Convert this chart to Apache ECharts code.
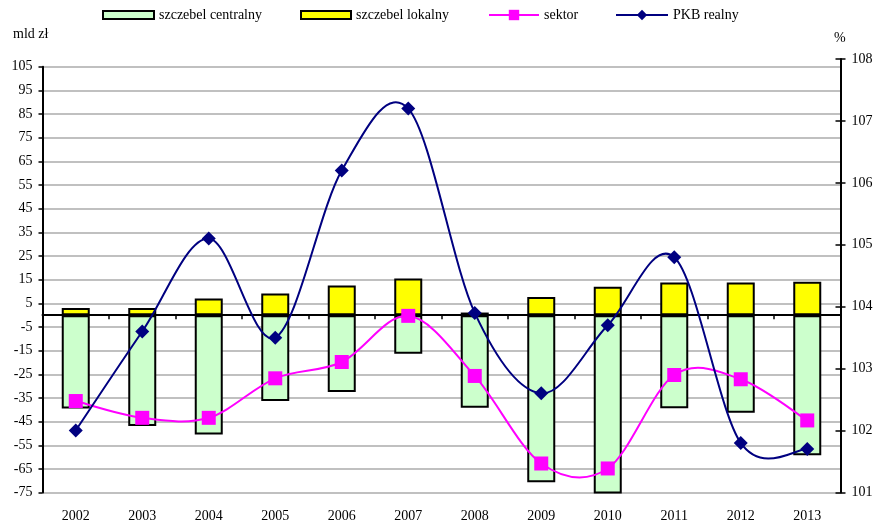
<!DOCTYPE html>
<html lang="pl">
<head>
<meta charset="UTF-8">
<title>Sektor finansów publicznych</title>
<script src="https://cdn.jsdelivr.net/npm/echarts@6/dist/echarts.min.js"></script>
<style>
  html, body { margin: 0; padding: 0; background: #fff; }
</style>
</head>
<body>
<div id="main" style="width: 879px; height: 524px;"></div>
<script type="text/javascript">
// dane
var lata = ['2002', '2003', '2004', '2005', '2006', '2007', '2008', '2009', '2010', '2011', '2012', '2013'];
var centralny = [-39.5, -46.9, -50.4, -36.3, -32.5, -16.3, -39.1, -70.6, -77.3, -39.4, -41.2, -59.2];
var lokalny = [3.0, 3.0, 7.0, 9.1, 12.5, 15.5, 1.1, 7.7, 12.0, 13.8, 13.8, 14.1];
var sektor = [-36.3, -43.4, -43.4, -26.7, -19.8, -0.3, -25.7, -62.7, -64.8, -25.3, -27.1, -44.5];
var pkb = [102.0, 103.6, 105.1, 103.5, 106.2, 107.2, 103.9, 102.6, 103.7, 104.8, 101.8, 101.7];

var FONT = 'Liberation Serif, Times New Roman, serif';
var txt = { fontFamily: FONT, fontSize: 14, color: '#000' };

var myChart = echarts.init(document.getElementById('main'));

function legendItem(name, left, w, h) {
    return {
        data: [{ name: name, icon: h < 10 ? 'rect' : undefined }],
        left: left,
        top: 8,
        padding: 0,
        itemWidth: w,
        itemHeight: h,
        selectedMode: false,
        textStyle: txt,
        lineStyle: { opacity: 1, width: 2 }
    };
}

// wygładzenie jak w Excelu (Catmull-Rom), punkty liczone przez osie wykresu
function krzywa(values, color) {
    return function (params, api) {
        var i = params.dataIndex;
        if (i >= values.length - 1) return;
        var p = function (k) {
            k = Math.max(0, Math.min(values.length - 1, k));
            return api.coord([k, values[k]]);
        };
        var p0 = p(i - 1), p1 = p(i), p2 = p(i + 1), p3 = p(i + 2);
        return {
            type: 'bezierCurve',
            shape: {
                x1: p1[0], y1: p1[1], x2: p2[0], y2: p2[1],
                cpx1: p1[0] + (p2[0] - p0[0]) / 6, cpy1: p1[1] + (p2[1] - p0[1]) / 6,
                cpx2: p2[0] - (p3[0] - p1[0]) / 6, cpy2: p2[1] - (p3[1] - p1[1]) / 6
            },
            style: { stroke: color, lineWidth: 2, fill: null }
        };
    };
}

var option = {
    animation: false,
    legend: [
        legendItem('szczebel centralny', 102, 51, 8),
        legendItem('szczebel lokalny', 300, 50, 8),
        legendItem('sektor', 488, 50, 13),
        legendItem('PKB realny', 615, 52, 13)
    ],
    graphic: [
        { type: 'text', left: 13, top: 27, style: { text: 'mld zł', font: '14px ' + FONT, fill: '#000' } },
        { type: 'text', left: 834, top: 31, style: { text: '%', font: '14px ' + FONT, fill: '#000' } }
    ],
    grid: [
        { left: 42.5, width: 798, top: 66.7, height: 425.9 },
        { left: 42.5, width: 798, top: 59.1, height: 433.3 }
    ],
    xAxis: [
        {   // linia zera z kreskami
            type: 'category', gridIndex: 0, data: lata, position: 'bottom',
            axisLine: { onZero: true, lineStyle: { color: '#000', width: 2 } },
            axisTick: { show: true, length: 4, lineStyle: { color: '#000', width: 1.5 } },
            axisLabel: { show: false }
        },
        {   // podpisy lat na dole
            type: 'category', gridIndex: 0, data: lata, position: 'bottom',
            axisLine: { show: false, onZero: false },
            axisTick: { show: false },
            axisLabel: { margin: 17, fontFamily: FONT, fontSize: 14, color: '#000' }
        },
        {
            type: 'category', gridIndex: 1, data: lata, show: false
        }
    ],
    yAxis: [
        {
            type: 'value', gridIndex: 0, min: -75, max: 105, interval: 10,
            axisLine: { show: true, lineStyle: { color: '#000', width: 2 } },
            axisTick: { show: true, length: 4, lineStyle: { color: '#000', width: 1.5 } },
            axisLabel: { margin: 10, fontFamily: FONT, fontSize: 14, color: '#000' },
            splitLine: { show: true, lineStyle: { color: '#c0c0c0', width: 2 } }
        },
        {
            type: 'value', gridIndex: 1, position: 'right', min: 101, max: 108, interval: 1,
            axisLine: { show: true, lineStyle: { color: '#000', width: 2 } },
            axisTick: { show: true, length: 5, lineStyle: { color: '#000', width: 1.5 } },
            axisLabel: { margin: 11, fontFamily: FONT, fontSize: 14, color: '#000' },
            splitLine: { show: false }
        },
        {
            type: 'value', gridIndex: 1, position: 'right', min: 101, max: 108, interval: 1,
            axisLine: { show: false },
            axisTick: { show: true, inside: true, length: 5, lineStyle: { color: '#000', width: 1.5 } },
            axisLabel: { show: false },
            splitLine: { show: false }
        }
    ],
    series: [
        {
            name: 'szczebel centralny', type: 'bar', xAxisIndex: 0, yAxisIndex: 0,
            data: centralny, barWidth: 28, barGap: '-100%',
            itemStyle: { color: '#ccffcc', borderColor: '#000', borderWidth: 2 }
        },
        {
            name: 'szczebel lokalny', type: 'bar', xAxisIndex: 0, yAxisIndex: 0,
            data: lokalny, barWidth: 28, barGap: '-100%',
            itemStyle: { color: '#ffff00', borderColor: '#000', borderWidth: 2 }
        },
        {
            type: 'custom', xAxisIndex: 0, yAxisIndex: 0, z: 4, silent: true,
            data: sektor, renderItem: krzywa(sektor, '#ff00ff')
        },
        {
            name: 'sektor', type: 'line', xAxisIndex: 0, yAxisIndex: 0,
            data: sektor, symbol: 'rect', symbolSize: 14, z: 5,
            itemStyle: { color: '#ff00ff' },
            lineStyle: { color: '#ff00ff', width: 2, opacity: 0 }
        },
        {
            type: 'custom', xAxisIndex: 2, yAxisIndex: 1, z: 6, silent: true,
            data: pkb, renderItem: krzywa(pkb, '#000080')
        },
        {
            name: 'PKB realny', type: 'line', xAxisIndex: 2, yAxisIndex: 1,
            data: pkb, symbol: 'diamond', symbolSize: 14, z: 7,
            itemStyle: { color: '#000080' },
            lineStyle: { color: '#000080', width: 2, opacity: 0 }
        }
    ]
};

myChart.setOption(option);
</script>
</body>
</html>
